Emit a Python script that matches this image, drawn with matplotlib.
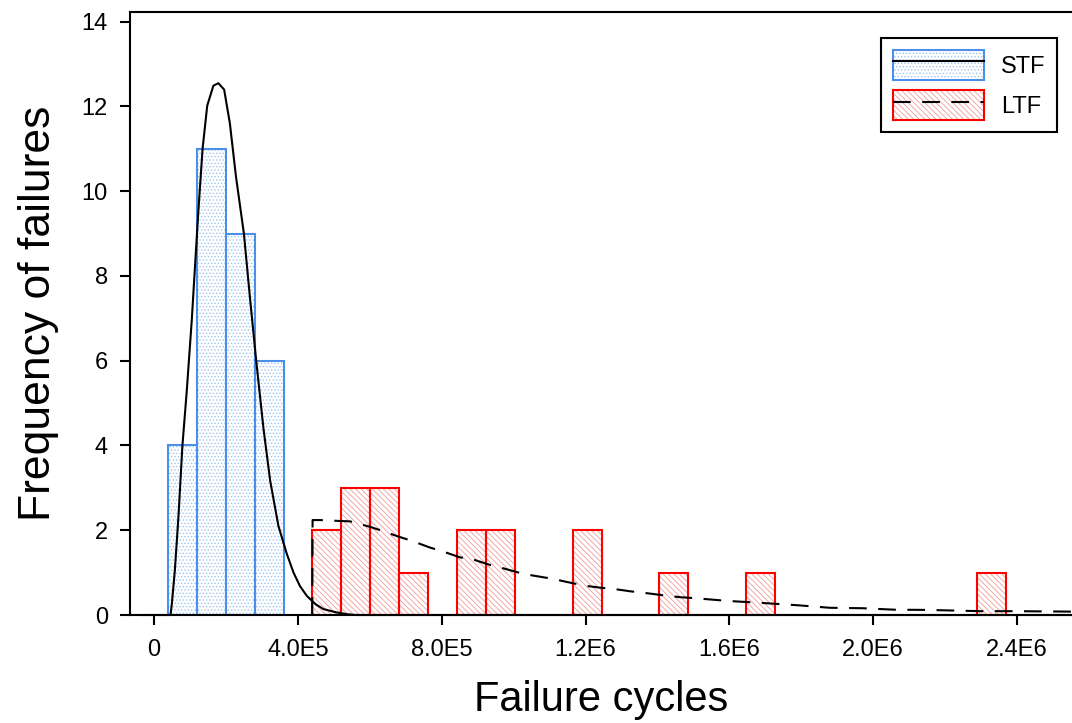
import matplotlib
matplotlib.use('Agg')
import matplotlib.pyplot as plt
from matplotlib.legend_handler import HandlerTuple

# ---------------------------------------------------------------------------
# Datos
# ---------------------------------------------------------------------------

bin_width = 80.4e3

# Short time failures (STF)
stf_left = [38.5e3, 118.9e3, 199.3e3, 279.7e3]
stf_counts = [4, 11, 9, 6]

# Long time failures (LTF)
ltf_left = [440.5e3, 520.9e3, 601.3e3, 681.7e3, 842.5e3, 922.9e3,
            1164.1e3, 1405.3e3, 1646.5e3, 2289.7e3]
ltf_counts = [2, 3, 3, 1, 2, 2, 2, 1, 1, 1]

# curva ajustada STF (x en millones de ciclos)
stf_curve_x = [-0.040, 0.046, 0.050, 0.058, 0.068, 0.079, 0.091, 0.105, 0.114,
               0.123, 0.135, 0.148, 0.165, 0.179, 0.195, 0.211, 0.228, 0.250,
               0.267, 0.284, 0.304, 0.323, 0.346, 0.369, 0.388, 0.406, 0.425,
               0.450, 0.471, 0.508, 0.536, 0.560, 2.550]
stf_curve_y = [0, 0, 0.3, 1.06, 2.33, 4.0, 5.28, 6.96, 8.23,
               9.49, 11.0, 12.02, 12.49, 12.55, 12.4, 11.6, 10.34, 9.0,
               7.47, 6.02, 4.43, 3.17, 2.1, 1.45, 1.0, 0.68, 0.45,
               0.25, 0.14, 0.06, 0.02, 0, 0]

# curva ajustada LTF
ltf_curve_x = [0.440, 0.441, 0.462, 0.513, 0.545, 0.601, 0.633, 0.680, 0.717,
               0.768, 0.800, 0.851, 0.884, 0.935, 0.972, 1.027, 1.055, 1.111,
               1.148, 1.199, 1.236, 1.291, 1.324, 1.375, 1.412, 1.463, 1.500,
               1.556, 1.600, 1.640, 1.700, 1.790, 1.880, 1.970, 2.060, 2.150,
               2.300, 2.400, 2.550]
ltf_curve_y = [0, 2.24, 2.24, 2.22, 2.21, 2.08, 1.99, 1.85, 1.75,
               1.59, 1.51, 1.36, 1.32, 1.18, 1.10, 0.97, 0.93, 0.85,
               0.78, 0.69, 0.65, 0.60, 0.56, 0.51, 0.47, 0.42, 0.40,
               0.36, 0.33, 0.31, 0.28, 0.23, 0.17, 0.16, 0.125, 0.12,
               0.09, 0.09, 0.08]

x_ticks = [0, 4e5, 8e5, 1.2e6, 1.6e6, 2.0e6, 2.4e6]
x_tick_labels = ['0', '4.0E5', '8.0E5', '1.2E6', '1.6E6', '2.0E6', '2.4E6']
y_ticks = [0, 2, 4, 6, 8, 10, 12, 14]

# ---------------------------------------------------------------------------
# Grafica
# ---------------------------------------------------------------------------

plt.rcParams['font.family'] = ['Liberation Sans', 'DejaVu Sans']
plt.rcParams['hatch.linewidth'] = 0.6

fig = plt.figure(figsize=(10.72, 7.23), dpi=100)
ax = fig.add_axes([130 / 1072, 108 / 723, 942 / 1072, 603 / 723])

# relleno con trama (color claro) y luego el borde
stf_fill = ax.bar(stf_left, stf_counts, width=bin_width, align='edge',
                  facecolor='white', edgecolor='#9cc4f2', hatch='.....',
                  linewidth=0)
stf_edge = ax.bar(stf_left, stf_counts, width=bin_width, align='edge',
                  facecolor='none', edgecolor='#4a90e8', linewidth=1.5)
ltf_fill = ax.bar(ltf_left, ltf_counts, width=bin_width, align='edge',
                  facecolor='white', edgecolor='#f29a9a',
                  hatch='\\\\\\\\\\\\', linewidth=0)
ltf_edge = ax.bar(ltf_left, ltf_counts, width=bin_width, align='edge',
                  facecolor='none', edgecolor='#ff0000', linewidth=1.5)

stf_line, = ax.plot([v * 1e6 for v in stf_curve_x], stf_curve_y,
                    color='black', lw=1.5, clip_on=False, zorder=4)
ltf_line, = ax.plot([v * 1e6 for v in ltf_curve_x], ltf_curve_y,
                    color='black', lw=1.5, linestyle=(0, (8.5, 5.5)),
                    clip_on=False, zorder=4)

ax.set_xlim(-66.8e3, 2.553e6)
ax.set_ylim(0, 14.23)

ax.set_xticks(x_ticks)
ax.set_xticklabels(x_tick_labels)
ax.set_yticks(y_ticks)
ax.tick_params(axis='both', direction='out', length=7, width=1.5,
               labelsize=17)
ax.tick_params(axis='x', pad=10)
ax.tick_params(axis='y', pad=9)

for side in ['left', 'top', 'bottom']:
    ax.spines[side].set_linewidth(1.5)
ax.spines['right'].set_visible(False)

ax.set_xlabel('Failure cycles', fontsize=30, labelpad=14)
ax.set_ylabel('Frequency of failures', fontsize=32, labelpad=16)

leg = ax.legend([(stf_fill[0], stf_edge[0], stf_line),
                 (ltf_fill[0], ltf_edge[0], ltf_line)],
                ['STF', 'LTF'],
                handler_map={tuple: HandlerTuple(ndivide=1)},
                loc='upper right',
                bbox_to_anchor=(1057 / 1072, 1 - 38 / 723),
                bbox_transform=fig.transFigure,
                fontsize=17, fancybox=False, framealpha=1,
                edgecolor='black', borderaxespad=0, borderpad=0.5,
                handlelength=3.85, handleheight=1.6, handletextpad=0.7,
                labelspacing=0.42)
leg.get_frame().set_linewidth(1.5)

fig.savefig('out.png', dpi=100)
